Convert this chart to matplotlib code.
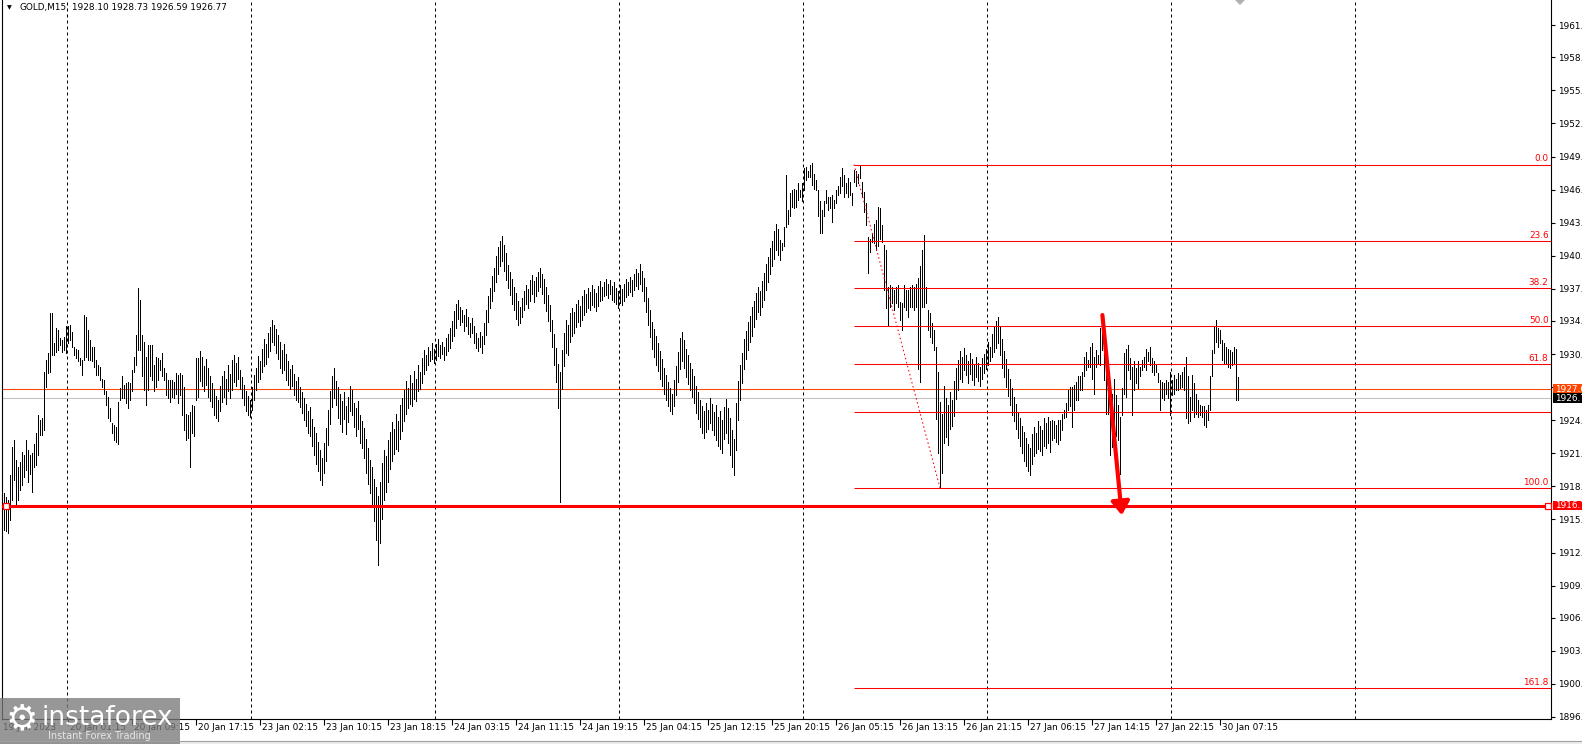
import numpy as np
import matplotlib.pyplot as plt
from matplotlib.patches import Rectangle, Polygon
from matplotlib.transforms import blended_transform_factory

W, H = 1582, 744

# GOLD M15 bars (high / low), one value per bar, left to right
high_a = [1917.85, 1917.5, 1917.2, 1919.6, 1922.2, 1922.8, 1921.0, 1920.35, 1920.8, 1921.75,
          1921.4, 1922.8, 1921.9, 1921.4, 1921.6, 1922.5, 1923.5, 1925.2, 1924.7, 1924.9,
          1929.2, 1930.3, 1931.0, 1934.7, 1934.7, 1931.9, 1933.3, 1933.15, 1932.4, 1932.2,
          1932.5, 1933.5, 1933.5, 1933.6, 1933.0, 1931.6, 1931.4, 1931.3, 1930.5, 1930.3,
          1934.55, 1934.4, 1933.15, 1932.2, 1931.6, 1931.6, 1930.3, 1929.9, 1929.7, 1928.6,
          1928.5, 1927.4, 1926.9, 1925.8, 1924.4, 1924.25, 1924.1, 1926.4, 1927.7, 1928.8,
          1928.0, 1928.15, 1928.3, 1928.15, 1929.4, 1930.65, 1932.7, 1937.05, 1935.96, 1932.7,
          1932.05, 1930.65, 1931.7, 1931.7, 1931.7, 1929.9, 1930.65, 1930.5, 1930.3, 1931.0,
          1929.6, 1929.1, 1928.5, 1928.5, 1928.5, 1928.3, 1929.1, 1928.9, 1929.1, 1928.9,
          1927.8, 1925.3, 1925.2, 1925.5, 1926.1, 1926.0, 1930.5, 1930.5]
low_a = [1914.4, 1914.3, 1914.1, 1915.35, 1917.2, 1919.1, 1916.8, 1917.2, 1918.2, 1918.6,
         1919.4, 1920.0, 1918.9, 1919.7, 1918.0, 1920.35, 1920.5, 1921.4, 1923.3, 1923.3,
         1923.8, 1927.8, 1929.1, 1929.2, 1930.8, 1930.8, 1931.1, 1931.3, 1931.7, 1931.1,
         1931.3, 1931.0, 1931.9, 1932.2, 1931.6, 1930.8, 1930.5, 1930.2, 1929.9, 1928.9,
         1930.3, 1930.65, 1930.3, 1930.3, 1930.2, 1929.7, 1928.9, 1928.9, 1928.5, 1927.8,
         1927.2, 1926.1, 1924.9, 1924.6, 1923.5, 1922.8, 1922.7, 1922.5, 1926.6, 1926.75,
         1926.75, 1926.3, 1925.8, 1926.6, 1927.4, 1929.2, 1929.9, 1931.3, 1931.3, 1928.8,
         1927.5, 1926.1, 1927.5, 1928.8, 1928.5, 1927.4, 1927.8, 1928.5, 1929.4, 1928.8,
         1928.5, 1927.1, 1926.75, 1926.4, 1926.9, 1926.75, 1927.2, 1926.3, 1927.1, 1925.2,
         1923.8, 1922.8, 1923.0, 1920.35, 1923.5, 1923.2, 1926.6, 1926.9]

high_b = [1931.2, 1930.6, 1929.8, 1930.4, 1929.6, 1928.8, 1928.2, 1927.6, 1927.0, 1926.6,
          1927.9, 1928.8, 1929.3, 1928.6, 1929.9, 1929.0, 1930.3, 1930.8, 1930.1, 1930.6,
          1929.4, 1928.7, 1928.0, 1927.4, 1927.0, 1926.6, 1927.8, 1928.9, 1929.6, 1930.7,
          1930.2, 1931.4, 1932.3, 1931.8, 1932.9, 1933.4, 1934.1, 1933.6, 1933.2, 1932.7,
          1932.0, 1931.3, 1931.8, 1930.9, 1930.2, 1929.5, 1929.9, 1929.0, 1928.4, 1928.7,
          1927.8, 1927.3, 1926.8, 1926.2, 1925.6, 1925.9, 1924.8, 1924.1, 1923.5, 1922.7,
          1921.9, 1921.2, 1922.6, 1924.0, 1925.7, 1927.4, 1928.8, 1929.6, 1928.4, 1927.8,
          1927.2, 1926.5, 1927.3, 1926.0, 1926.9, 1927.9, 1927.5, 1926.3, 1925.8, 1926.5,
          1925.2, 1924.6, 1924.0, 1922.9, 1922.1, 1921.0, 1920.3, 1919.2, 1918.4, 1917.6,
          1918.9, 1920.7, 1921.9, 1921.3, 1922.8, 1923.6, 1924.5, 1923.9, 1925.3, 1924.6,
          1926.1, 1926.8, 1927.5, 1928.4, 1927.7, 1928.9, 1928.2, 1929.3, 1928.6, 1929.9,
          1929.2, 1930.5, 1931.3, 1930.8, 1931.6, 1931.2, 1931.9, 1931.4, 1931.8, 1932.3,
          1931.7, 1932.0, 1931.6, 1932.4, 1932.8, 1933.3, 1934.0, 1934.9, 1935.6, 1936.0,
          1935.3, 1935.0, 1934.6, 1935.1, 1934.4, 1933.8, 1934.3, 1933.5, 1932.9, 1932.4,
          1933.0, 1932.6, 1933.8, 1935.0, 1936.3, 1937.1, 1938.2, 1939.0, 1940.1, 1940.9,
          1941.5, 1942.0, 1941.1, 1940.4, 1939.2, 1938.6, 1937.9, 1937.2, 1936.6, 1935.9,
          1935.3, 1936.1, 1936.8, 1937.4, 1937.0, 1937.8, 1938.3, 1937.7, 1938.1, 1938.6,
          1939.0, 1938.4, 1937.9, 1937.2, 1936.4, 1935.5, 1934.1, 1932.8, 1931.5, 1930.0,
          1929.2, 1931.3, 1932.9, 1934.1, 1933.6, 1934.7, 1935.2, 1934.8, 1935.6, 1936.0,
          1935.4, 1936.3, 1936.9, 1936.5, 1937.1, 1936.7, 1937.4, 1937.0, 1936.6, 1937.3,
          1937.7, 1937.2, 1937.6, 1937.9, 1937.5, 1937.8, 1937.3, 1937.6, 1937.1, 1936.8,
          1937.4, 1937.0, 1937.5, 1937.9, 1937.6, 1938.1, 1937.8, 1938.4, 1938.9, 1938.5,
          1939.3, 1938.7, 1938.0, 1937.2, 1936.1, 1935.0, 1933.9, 1933.2, 1932.6, 1931.9,
          1931.2, 1930.4, 1929.6, 1928.9, 1928.3, 1927.7, 1927.2, 1928.5, 1929.8, 1931.1,
          1932.4, 1933.0, 1932.2, 1931.4, 1930.8, 1930.1, 1929.5, 1928.8, 1927.9, 1927.3,
          1926.6, 1926.0, 1925.6, 1926.3, 1925.7, 1926.8, 1926.2, 1925.5, 1926.1, 1925.0,
          1925.6, 1924.7, 1925.9, 1926.7, 1925.8, 1924.9, 1923.8, 1922.9, 1926.3, 1928.4,
          1929.9, 1931.0, 1932.3, 1933.1, 1933.9, 1934.5, 1935.3, 1935.9, 1936.6, 1937.2,
          1936.8, 1937.7, 1938.5, 1939.3, 1940.0, 1940.8, 1941.5, 1942.4, 1943.1, 1942.6]
low_b = [1928.4, 1927.9, 1927.4, 1928.0, 1926.9, 1926.5, 1925.9, 1925.2, 1924.9, 1924.6,
         1925.6, 1926.4, 1926.9, 1926.2, 1927.4, 1926.8, 1927.5, 1928.3, 1927.9, 1928.6,
         1927.6, 1926.8, 1926.1, 1925.6, 1925.2, 1925.0, 1925.7, 1926.6, 1927.5, 1928.3,
         1928.6, 1929.2, 1929.8, 1930.0, 1930.6, 1931.2, 1932.0, 1931.7, 1931.0, 1930.4,
         1929.6, 1929.1, 1929.4, 1928.5, 1928.0, 1927.6, 1927.9, 1927.1, 1926.6, 1926.4,
         1925.9, 1925.4, 1924.7, 1924.2, 1923.5, 1923.2, 1922.3, 1921.4, 1920.6, 1919.9,
         1919.1, 1918.6, 1919.8, 1920.9, 1922.4, 1924.3, 1925.9, 1926.8, 1926.1, 1924.9,
         1924.3, 1923.6, 1924.8, 1923.4, 1924.5, 1925.6, 1925.2, 1924.1, 1923.2, 1923.9,
         1922.6, 1922.1, 1921.2, 1919.8, 1918.7, 1917.9, 1916.6, 1915.3, 1913.5, 1911.1,
         1913.2, 1915.4, 1917.2, 1918.0, 1918.9, 1920.1, 1920.9, 1921.5, 1922.0, 1921.8,
         1922.9, 1923.7, 1924.6, 1925.3, 1925.8, 1926.2, 1926.0, 1926.7, 1926.5, 1927.4,
         1927.6, 1928.2, 1929.0, 1929.4, 1929.9, 1930.2, 1930.4, 1930.1, 1930.3, 1930.7,
         1930.5, 1930.9, 1930.3, 1930.8, 1931.2, 1931.5, 1932.1, 1932.6, 1933.3, 1934.2,
         1933.6, 1933.9, 1933.1, 1933.5, 1932.8, 1932.5, 1932.9, 1931.9, 1931.5, 1931.2,
         1931.6, 1931.0, 1931.8, 1932.7, 1933.9, 1935.2, 1935.9, 1936.8, 1937.6, 1938.4,
         1939.1, 1939.6, 1938.7, 1937.8, 1937.1, 1936.4, 1935.6, 1935.0, 1934.2, 1933.6,
         1933.8, 1934.4, 1935.0, 1935.6, 1935.2, 1935.9, 1936.5, 1935.8, 1936.3, 1936.8,
         1937.2, 1936.5, 1935.7, 1934.9, 1934.0, 1933.1, 1931.6, 1929.9, 1928.3, 1925.8,
         1917.0, 1927.6, 1929.8, 1931.0, 1930.8, 1932.0, 1932.6, 1932.9, 1933.4, 1933.9,
         1933.5, 1934.1, 1934.6, 1934.8, 1935.2, 1935.0, 1935.5, 1935.3, 1934.9, 1935.4,
         1935.9, 1936.0, 1936.3, 1936.4, 1936.1, 1936.5, 1936.0, 1935.8, 1935.6, 1935.2,
         1935.7, 1935.5, 1935.9, 1936.2, 1936.4, 1936.7, 1936.3, 1936.9, 1937.3, 1937.0,
         1937.5, 1936.8, 1935.9, 1934.8, 1933.6, 1932.5, 1931.4, 1930.6, 1929.9, 1929.3,
         1928.6, 1927.9, 1927.2, 1926.6, 1926.0, 1925.6, 1925.3, 1926.0, 1927.1, 1928.3,
         1929.5, 1930.2, 1929.6, 1928.7, 1928.1, 1927.5, 1926.9, 1926.3, 1925.4, 1924.8,
         1924.1, 1923.5, 1923.0, 1923.6, 1923.9, 1924.4, 1923.8, 1923.3, 1922.8, 1922.3,
         1922.0, 1921.6, 1922.9, 1923.5, 1922.6, 1921.4, 1920.3, 1919.6, 1921.9, 1924.7,
         1926.6, 1928.2, 1929.5, 1930.4, 1931.3, 1932.0, 1932.6, 1933.4, 1934.2, 1934.8,
         1934.6, 1935.3, 1936.0, 1936.9, 1937.6, 1938.4, 1939.1, 1939.8, 1940.6, 1940.2]

high_c = [1941.6, 1941.3, 1942.8, 1947.7, 1944.4, 1945.95, 1946.3, 1946.4, 1946.3, 1946.9,
          1946.3, 1946.9, 1948.3, 1948.45, 1948.0, 1948.6, 1948.76, 1947.8, 1947.2, 1946.3,
          1945.2, 1944.4, 1945.2, 1946.3, 1945.6, 1945.6, 1945.8, 1945.3, 1946.3, 1946.6,
          1947.5, 1948.3, 1947.7, 1946.9, 1947.35, 1947.0, 1945.95, 1948.1, 1948.0, 1947.8,
          1948.6, 1947.0, 1946.1, 1945.0, 1941.9, 1941.7, 1942.2, 1943.1, 1943.45, 1944.7,
          1944.55, 1943.0, 1941.1, 1940.6, 1937.2, 1937.4, 1937.2, 1936.9, 1937.2, 1937.4,
          1935.8, 1935.65, 1937.4, 1936.9, 1936.9, 1937.2, 1937.4, 1937.2, 1937.5, 1938.0,
          1939.1, 1940.6, 1942.05, 1937.2, 1935.0, 1934.7, 1933.8, 1933.15]
low_c = [1939.7, 1940.6, 1941.0, 1942.8, 1943.1, 1943.8, 1944.7, 1944.55, 1944.7, 1945.3,
         1945.6, 1945.2, 1946.3, 1947.2, 1947.5, 1947.5, 1946.7, 1946.4, 1946.3, 1943.8,
         1942.2, 1942.2, 1943.8, 1945.0, 1944.4, 1944.55, 1943.3, 1944.55, 1945.0, 1945.8,
         1945.95, 1946.6, 1945.6, 1945.95, 1945.6, 1945.8, 1944.9, 1947.0, 1946.6, 1946.9,
         1947.35, 1945.6, 1944.2, 1943.0, 1938.5, 1940.5, 1941.4, 1941.3, 1940.6, 1941.0,
         1941.7, 1941.4, 1936.9, 1935.2, 1933.5, 1935.3, 1935.65, 1935.0, 1935.65, 1935.3,
         1934.1, 1933.15, 1935.3, 1935.0, 1934.4, 1935.3, 1935.3, 1935.0, 1935.3, 1929.5,
         1928.3, 1935.3, 1935.3, 1935.65, 1933.15, 1932.5, 1931.9, 1931.3]

high_d = [1931.6, 1929.2, 1926.4, 1925.3, 1927.9, 1926.8, 1926.1, 1927.3, 1926.6, 1928.4,
          1929.6, 1930.3, 1931.2, 1930.6, 1931.5, 1930.8, 1930.2, 1931.0, 1930.4, 1929.9,
          1930.6, 1930.1, 1929.7, 1930.5, 1930.9, 1931.4, 1932.0, 1931.6, 1932.8, 1933.5,
          1934.0, 1934.4, 1933.4, 1932.3, 1931.2, 1930.4, 1929.5, 1928.6, 1927.7, 1926.9,
          1926.2, 1925.4, 1924.9, 1924.2, 1923.6, 1923.0, 1922.5, 1922.1, 1923.4, 1924.1,
          1923.5, 1924.6, 1924.2, 1923.8, 1924.9, 1924.4, 1925.0]
low_d = [1924.8, 1921.6, 1918.35, 1919.8, 1922.6, 1923.1, 1922.4, 1923.9, 1924.2, 1925.1,
         1926.7, 1927.5, 1928.6, 1928.3, 1929.4, 1928.9, 1928.2, 1929.0, 1928.5, 1928.0,
         1928.7, 1928.4, 1927.9, 1928.6, 1929.1, 1929.5, 1929.9, 1930.2, 1930.6, 1931.1,
         1931.5, 1931.9, 1930.8, 1929.6, 1928.7, 1927.8, 1927.0, 1926.1, 1925.2, 1924.6,
         1923.9, 1923.0, 1922.3, 1921.6, 1920.9, 1920.4, 1919.9, 1919.6, 1920.6, 1921.3,
         1921.6, 1922.0, 1921.8, 1921.4, 1922.3, 1922.1, 1922.6]

high_e = [1924.6, 1924.7, 1924.6, 1924.25, 1924.7, 1924.7, 1925.3, 1925.65, 1926.3, 1927.5,
          1927.8, 1927.8, 1928.0, 1928.3, 1928.8, 1928.8, 1929.25, 1930.65, 1931.1, 1930.3,
          1931.6, 1931.9, 1930.65, 1931.3, 1930.8, 1933.3, 1934.55, 1933.15, 1931.9, 1928.5,
          1927.8, 1927.2, 1928.6, 1927.1, 1926.1, 1925.0, 1927.7, 1930.96, 1931.4, 1931.75,
          1930.5, 1929.7, 1930.2, 1929.55, 1930.2, 1929.7, 1930.3, 1930.65, 1931.4, 1931.1,
          1931.6, 1930.5, 1930.2, 1929.9, 1929.1, 1928.5, 1928.3, 1928.15, 1928.5, 1928.3,
          1929.25, 1928.5, 1928.9, 1928.6, 1929.1, 1928.9, 1929.25, 1929.7, 1930.65, 1928.8,
          1926.9, 1928.9, 1928.15, 1927.2, 1926.6, 1926.1, 1926.0, 1926.0, 1925.65, 1926.1,
          1928.8, 1931.3, 1933.5, 1934.1, 1933.3, 1933.15, 1932.2, 1931.9, 1931.6, 1931.4,
          1931.3, 1931.1, 1931.6, 1931.4, 1928.73]
low_e = [1921.75, 1922.85, 1923.0, 1922.7, 1922.5, 1922.85, 1923.8, 1924.9, 1925.0, 1925.65,
         1926.0, 1924.1, 1925.65, 1926.6, 1926.6, 1927.5, 1927.5, 1928.8, 1929.4, 1929.7,
         1929.7, 1928.6, 1927.2, 1929.7, 1930.0, 1929.9, 1931.3, 1928.5, 1925.3, 1925.3,
         1921.4, 1922.2, 1924.1, 1923.2, 1922.85, 1919.7, 1925.2, 1927.2, 1926.9, 1929.4,
         1928.6, 1925.2, 1927.5, 1928.15, 1927.7, 1928.8, 1929.4, 1929.7, 1929.4, 1930.2,
         1929.9, 1929.25, 1928.9, 1929.25, 1928.3, 1925.65, 1926.75, 1926.6, 1927.2, 1926.75,
         1925.2, 1927.1, 1927.2, 1927.5, 1927.5, 1927.7, 1927.8, 1927.5, 1924.9, 1924.4,
         1924.6, 1925.65, 1925.0, 1925.3, 1925.0, 1925.2, 1925.0, 1924.25, 1924.1, 1924.7,
         1925.65, 1928.8, 1930.96, 1932.05, 1931.6, 1931.9, 1930.3, 1930.0, 1930.0, 1929.7,
         1929.55, 1929.9, 1930.0, 1926.6, 1926.59]

ytick_vals = [1896.9, 1900.0, 1903.1, 1906.2, 1909.2, 1912.3, 1915.4, 1918.5, 1921.6, 1924.7, 1927.8,
              1930.9, 1934.0, 1937.0, 1940.1, 1943.2, 1946.3, 1949.4, 1952.5, 1955.6, 1958.7, 1961.7]
time_labels = ["19 Jan 2023", "20 Jan 01:15", "20 Jan 09:15", "20 Jan 17:15", "23 Jan 02:15",
               "23 Jan 10:15", "23 Jan 18:15", "24 Jan 03:15", "24 Jan 11:15", "24 Jan 19:15",
               "25 Jan 04:15", "25 Jan 12:15", "25 Jan 20:15", "26 Jan 05:15", "26 Jan 13:15",
               "26 Jan 21:15", "27 Jan 06:15", "27 Jan 14:15", "27 Jan 22:15", "30 Jan 07:15"]
day_breaks = [31.3, 123.3, 215.3, 307.3, 399.3, 491.3, 583.3, 675.3]

fib_levels = [0.0, 23.6, 38.2, 50.0, 61.8, 76.4, 100.0, 161.8]
fib_labeled = [True, True, True, True, True, False, True, True]
fib_high, fib_low = 1948.65, 1918.35
fib_x0, fib_x1 = 425, 468
support = 1916.7
ask_line, bid_line = 1927.6, 1926.77
arrow_from, arrow_to = (549.2, 1934.55), (558.9, 1915.8)
title_ohlc = "1928.10 1928.73 1926.59 1926.77"

ymin, ymax = 1896.71, 1964.06
xmin, xmax = -1, 773.5
FS = 6.4

plt.rcParams['font.family'] = ['DejaVu Sans']

fig = plt.figure(figsize=(W / 100, H / 100), dpi=100)
fig.patch.set_facecolor('white')
ax = fig.add_axes([2 / W, 25 / H, 1549 / W, 719 / H])
ax.set_xlim(xmin, xmax)
ax.set_ylim(ymin, ymax)
ax.spines['top'].set_visible(False)
for s in ['left', 'right', 'bottom']:
    ax.spines[s].set_linewidth(0.8)

# day separators
for d in day_breaks:
    ax.axvline(d, color='black', lw=0.72, linestyle=(0, (3, 3)), zorder=1)

# bars
highs = np.array(high_a + high_b + high_c + high_d + high_e)
lows = np.array(low_a + low_b + low_c + low_d + low_e)
idx = np.arange(len(highs))
ax.vlines(idx, lows, highs, colors='black', linewidth=0.5,
          antialiased=False, zorder=3)

# bid / ask lines
ax.axhline(ask_line, color='#ff4500', lw=0.75, zorder=2)
ax.axhline(bid_line, color='#c0c0c0', lw=0.75, zorder=2)

# fibonacci retracement
rng = fib_high - fib_low
for lvl, lab in zip(fib_levels, fib_labeled):
    p = fib_high - rng * lvl / 100
    ax.hlines(p, fib_x0, xmax, colors='red', lw=0.75, zorder=4)
    if lab:
        ax.text(772.3, p + 0.12, f"{lvl:.1f}", color='red', fontsize=FS,
                ha='right', va='bottom', zorder=5)
ax.plot([fib_x0, fib_x1], [fib_high, fib_low], color='red', lw=0.75,
        linestyle=(0, (1.5, 2.5)), zorder=4)

# support line
ax.axhline(support, color='red', lw=2.2, zorder=4)
ax.plot([1.2, 772], [support, support], 's', ms=3.8, mfc='white', mec='red',
        mew=0.9, zorder=5, clip_on=False)

# arrow
ax.annotate('', xy=arrow_to, xytext=arrow_from,
            arrowprops=dict(arrowstyle='-|>,head_length=0.8,head_width=0.55',
                            color='red', lw=3, mutation_scale=10,
                            shrinkA=0, shrinkB=0), zorder=6)

# y axis on the right, labels cut by the window edge as in the terminal
ax.yaxis.tick_right()
ax.set_yticks(ytick_vals)
ax.set_yticklabels([f"{v:.2f}" for v in ytick_vals], fontsize=FS)
ax.tick_params(axis='y', direction='out', length=3, width=0.8, pad=2)

# time axis
tick_x = [32 * k for k in range(1, len(time_labels))]
ax.set_xticks(tick_x)
ax.set_xticklabels([])
ax.tick_params(axis='x', direction='out', length=4, width=0.8)
tr = blended_transform_factory(ax.transData, fig.transFigure)
for k, lab in enumerate(time_labels):
    x = -0.5 if k == 0 else 32 * k + 1.2
    ax.text(x, 16 / H, lab, transform=tr, fontsize=FS, ha='left', va='center',
            clip_on=False)


def fy(p):
    return (25 + (p - ymin) / (ymax - ymin) * 719) / H


# price labels at the right edge
for p, txt, fc in [(ask_line, "1927.60", '#ff4500'), (bid_line, "1926.77", 'black'),
                   (support, "1916.70", 'red')]:
    y = fy(p)
    fig.add_artist(Rectangle((1553 / W, y - 4.5 / H), 40 / W, 9.5 / H,
                             transform=fig.transFigure, fc=fc, ec='none'))
    fig.text(1555 / W, y, txt, color='white', fontsize=FS, va='center', ha='left')

# title
fig.text(7 / W, 1 - 7.5 / H, "\u25bc", fontsize=4.5, va='center', ha='left')
fig.text(19 / W, 1 - 7.5 / H, "GOLD,M15", fontsize=FS, va='center', ha='left')
fig.text(72 / W, 1 - 7.5 / H, title_ohlc, fontsize=FS, va='center', ha='left')

# chart shift marker
fig.add_artist(Polygon([(1235 / W, 1.0), (1245 / W, 1.0), (1240 / W, 1 - 5 / H)],
                       closed=True, transform=fig.transFigure, fc='#b0b0b0', ec='none'))

# bottom window strip
fig.add_artist(Rectangle((0, 0), 1, 3 / H, transform=fig.transFigure,
                         fc='#ececec', ec='none'))
fig.add_artist(plt.Line2D([0, 1], [3 / H, 3 / H], transform=fig.transFigure,
                          color='#a0a0a0', lw=0.8))

# watermark
fig.add_artist(Rectangle((0, 0), 180 / W, 46 / H, transform=fig.transFigure,
                         fc='#7a7a7a', ec='none', alpha=0.78))
fig.text(22 / W, 25 / H, "\u2699", fontsize=26, color='white', va='center', ha='center')
fig.text(42 / W, 26 / H, "instaforex", fontsize=19, color='white', va='center', ha='left')
fig.text(48 / W, 8 / H, "Instant Forex Trading", fontsize=7, color='#e6e6e6',
         va='center', ha='left')

fig.savefig('out.png', dpi=100)
